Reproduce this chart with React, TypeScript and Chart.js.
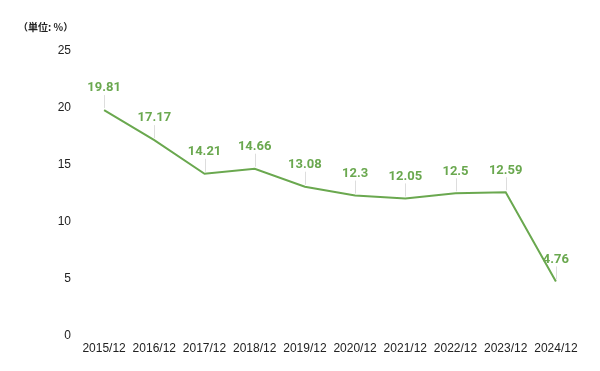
import React, { useEffect, useRef } from "react";
import { Chart, registerables } from "chart.js";

Chart.register(...registerables);

const categories = ["2015/12", "2016/12", "2017/12", "2018/12", "2019/12", "2020/12", "2021/12", "2022/12", "2023/12", "2024/12"];
const values = [19.81, 17.17, 14.21, 14.66, 13.08, 12.3, 12.05, 12.5, 12.59, 4.76];
const valueLabels = ["19.81", "17.17", "14.21", "14.66", "13.08", "12.3", "12.05", "12.5", "12.59", "4.76"];
const yTicks = [0, 5, 10, 15, 20, 25];
const unitLabel = "（単位: %）";

const GREEN = "#6aa84f";

const labelPlugin = {
  id: "leaderLabels",
  afterDatasetsDraw(chart: any) {
    const ctx = chart.ctx;
    const meta = chart.getDatasetMeta(0);
    ctx.save();
    meta.data.forEach((pt: any, i: number) => {
      const x = pt.x;
      const y = pt.y;
      ctx.strokeStyle = "#dddddd";
      ctx.lineWidth = 1;
      ctx.beginPath();
      ctx.moveTo(Math.round(x) + 0.5, y - 2);
      ctx.lineTo(Math.round(x) + 0.5, y - 15);
      ctx.stroke();
      ctx.fillStyle = GREEN;
      ctx.font = "bold 13px Roboto, 'Noto Sans', sans-serif";
      ctx.textAlign = "center";
      ctx.textBaseline = "middle";
      ctx.fillText(valueLabels[i], x, y - 22);
    });
    ctx.fillStyle = "#222";
    ctx.font = "bold 10px 'Noto Sans CJK JP', sans-serif";
    ctx.textAlign = "left";
    ctx.textBaseline = "middle";
    ctx.fillText(unitLabel, 18, 27);
    ctx.restore();
  },
};

export default function App() {
  const ref = useRef<HTMLCanvasElement>(null);
  useEffect(() => {
    const chart = new Chart(ref.current!, {
      type: "line",
      data: {
        labels: categories,
        datasets: [
          {
            data: values,
            borderColor: GREEN,
            borderWidth: 2,
            pointRadius: 0,
            fill: false,
            tension: 0,
          },
        ],
      },
      options: {
        animation: false,
        responsive: false,
        maintainAspectRatio: false,
        layout: { padding: { top: 51, right: 19, left: 0, bottom: 9 } },
        plugins: { legend: { display: false }, tooltip: { enabled: false } },
        scales: {
          x: {
            offset: true,
            grid: { display: false, drawTicks: false },
            border: { display: false },
            ticks: {
              color: "#222",
              font: { family: "'Liberation Sans', Arial, sans-serif", size: 12 },
              maxRotation: 0,
              autoSkip: false,
              padding: 6,
            },
          },
          y: {
            min: 0,
            max: 25,
            afterBuildTicks: (scale: any) => {
              scale.ticks = yTicks.map((v) => ({ value: v }));
            },
            afterFit: (scale: any) => {
              scale.width = 79;
            },
            grid: { display: false, drawTicks: false },
            border: { display: false },
            ticks: {
              color: "#222",
              font: { family: "'Liberation Sans', Arial, sans-serif", size: 12 },
              padding: 8,
            },
          },
        },
      },
      plugins: [labelPlugin],
    });
    return () => chart.destroy();
  }, []);
  return (
    <div style={{ position: "absolute", left: 0, top: 0, width: 600, height: 371 }}>
      <canvas ref={ref} width={600} height={371} />
    </div>
  );
}
